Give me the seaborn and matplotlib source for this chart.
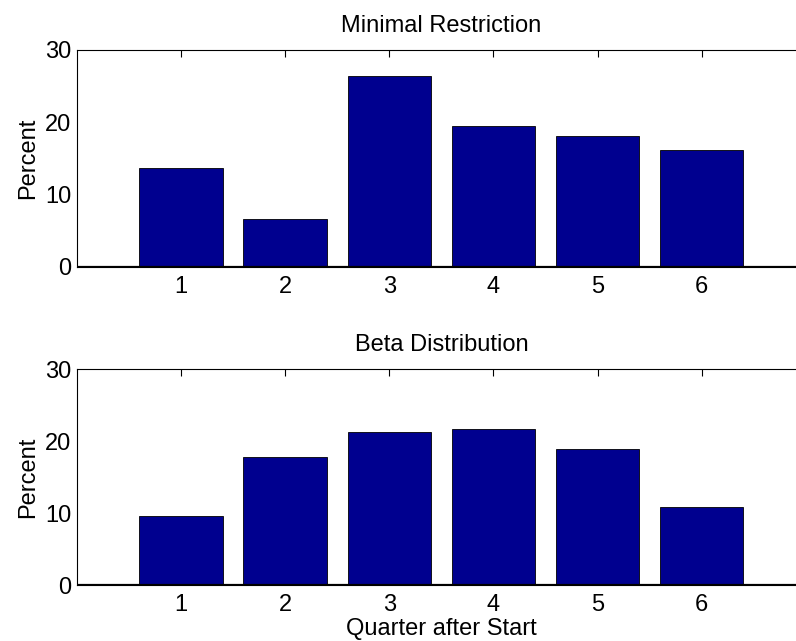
import matplotlib
matplotlib.use("Agg")
import matplotlib.pyplot as plt
import seaborn as sns
import pandas as pd

quarters = [1, 2, 3, 4, 5, 6]
minimal_restriction = [13.6, 6.6, 26.35, 19.43, 18.1, 16.1]
beta_distribution = [9.65, 17.8, 21.27, 21.64, 18.92, 10.89]
titles = ["Minimal Restriction", "Beta Distribution"]
y_ticks = [0, 10, 20, 30]

sns.set_style("white")
plt.rcParams['font.family'] = ['Liberation Sans', 'DejaVu Sans']
plt.rcParams['text.color'] = 'black'
plt.rcParams['axes.labelcolor'] = 'black'

FS = 17

fig = plt.figure(figsize=(7.96, 6.41), dpi=100)
W, H = 796, 641
positions = [
    [76.7 / W, (H - 266.7) / H, 729.3 / W, 216.7 / H],
    [76.7 / W, (H - 585.0) / H, 729.3 / W, 216.0 / H],
]
series = [minimal_restriction, beta_distribution]

for i, (pos, vals, title) in enumerate(zip(positions, series, titles)):
    ax = fig.add_axes(pos)
    df = pd.DataFrame({"quarter": quarters, "percent": vals})
    sns.barplot(data=df, x="quarter", y="percent", native_scale=True,
                color="#00008F", saturation=1, width=0.8,
                edgecolor="black", linewidth=0.6, ax=ax)
    ax.set_xlim(0, 7)
    ax.set_ylim(0, 30)
    ax.set_yticks(y_ticks)
    ax.set_xticks(quarters)
    ax.set_xticklabels([str(q) for q in quarters])
    ax.tick_params(axis="both", direction="in", length=5, width=0.8,
                   labelsize=FS, colors="black", top=True, right=True)
    ax.tick_params(axis="x", pad=6.5)
    ax.tick_params(axis="y", pad=4)
    for s in ax.spines.values():
        s.set_visible(True)
        s.set_color("black")
        s.set_linewidth(0.8)
    ax.axhline(0, color="black", linewidth=1.6, zorder=5)
    ax.set_title(title, fontsize=FS, pad=13, color="black")
    ax.set_ylabel("Percent", fontsize=FS, labelpad=4)
    if i == 1:
        ax.set_xlabel("Quarter after Start", fontsize=FS, labelpad=1.5)
    else:
        ax.set_xlabel("")

fig.savefig("out.png", dpi=100)
